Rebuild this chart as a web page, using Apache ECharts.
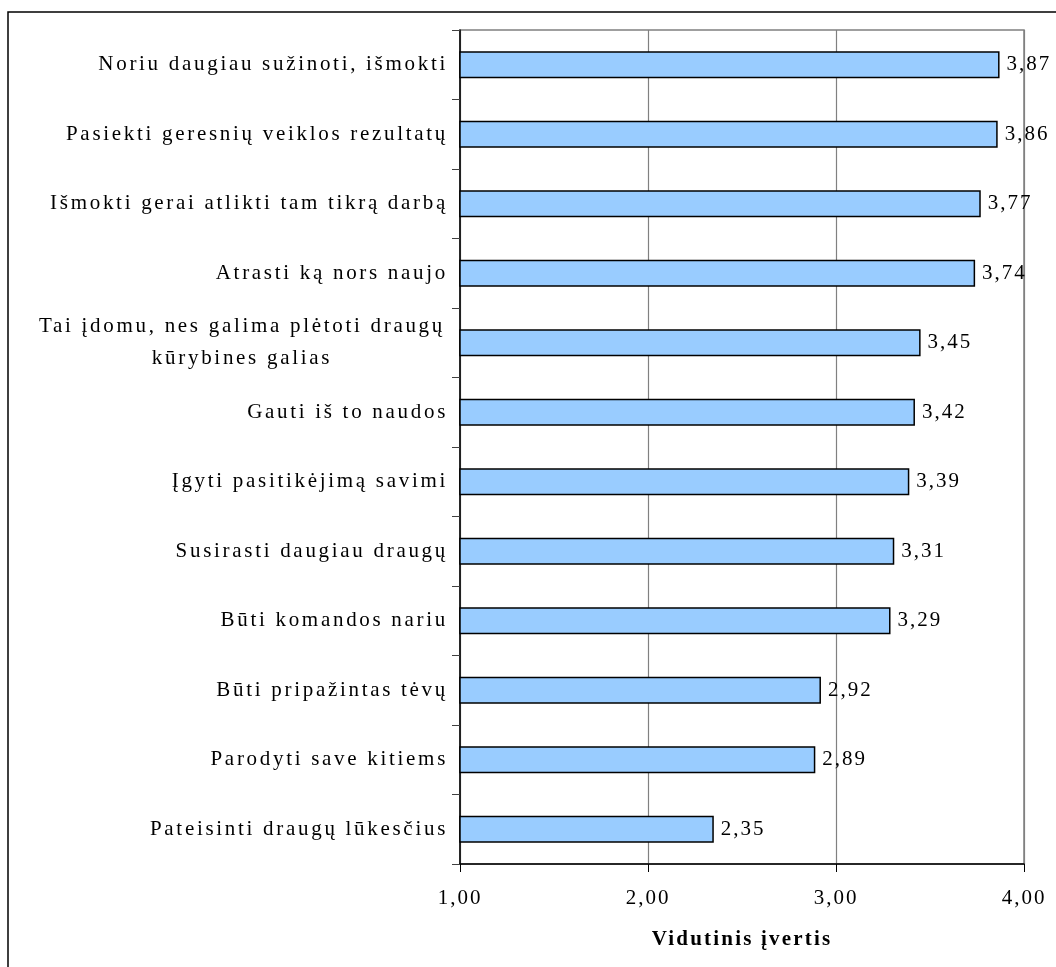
<!DOCTYPE html>
<html>
<head>
<meta charset="utf-8">
<script src="https://cdn.jsdelivr.net/npm/echarts@6/dist/echarts.min.js"></script>
<style>
  html, body { margin: 0; padding: 0; background: #fff; }
  #main { width: 1056px; height: 967px; }
</style>
</head>
<body>
<div id="main"></div>
<script>
const categories = [
  "Noriu daugiau sužinoti, išmokti",
  "Pasiekti geresnių veiklos rezultatų",
  "Išmokti gerai atlikti tam tikrą darbą",
  "Atrasti ką nors naujo",
  "Tai įdomu, nes galima plėtoti draugų\nkūrybines galias",
  "Gauti iš to naudos",
  "Įgyti pasitikėjimą savimi",
  "Susirasti daugiau draugų",
  "Būti komandos nariu",
  "Būti pripažintas tėvų",
  "Parodyti save kitiems",
  "Pateisinti draugų lūkesčius"
];
const values = [3.87, 3.86, 3.77, 3.74, 3.45, 3.42, 3.39, 3.31, 3.29, 2.92, 2.89, 2.35];
const xTicks = [1, 2, 3, 4];
const xAxisTitle = "Vidutinis įvertis";

const fmt = v => v.toFixed(2).replace('.', ',');
const FONT = 'Liberation Serif';

// Reference text is drawn with slightly expanded letter spacing (Times-style, Excel export).
(function () {
  const proto = CanvasRenderingContext2D.prototype;
  const spacingFor = (ctx, t) => {
    const s = String(t);
    if (/^[\d,]+$/.test(s)) return '2px';
    if ((ctx.font || '').indexOf('bold') >= 0) return '2.2px';
    return '2.7px';
  };
  const origFill = proto.fillText;
  proto.fillText = function (t, x, y, w) {
    this.letterSpacing = spacingFor(this, t);
    return w === undefined ? origFill.call(this, t, x, y) : origFill.call(this, t, x, y, w);
  };
  const origMeasure = proto.measureText;
  proto.measureText = function (t) {
    this.letterSpacing = spacingFor(this, t);
    return origMeasure.call(this, t);
  };
})();

const chart = echarts.init(document.getElementById('main'), null, { renderer: 'canvas' });
chart.setOption({
  animation: false,
  backgroundColor: '#fff',
  textStyle: { fontFamily: FONT, color: '#000' },
  graphic: [{
    type: 'rect',
    shape: { x: 8, y: 12, width: 1100, height: 1000 },
    style: { fill: 'none', stroke: '#000', lineWidth: 1.5 },
    silent: true
  }],
  grid: {
    left: 460, right: 32, top: 30, bottom: 103,
    show: true, borderColor: '#808080', borderWidth: 1.5, backgroundColor: 'transparent'
  },
  xAxis: {
    type: 'value',
    min: xTicks[0], max: xTicks[xTicks.length - 1], interval: 1,
    name: xAxisTitle,
    nameLocation: 'middle',
    nameGap: 64,
    nameTextStyle: { fontFamily: FONT, fontWeight: 'bold', fontSize: 21, color: '#000' },
    axisLine: { show: true, lineStyle: { color: '#000', width: 1.5 } },
    axisTick: { show: true, length: 8, inside: false, lineStyle: { color: '#000' } },
    axisLabel: { fontFamily: FONT, fontSize: 21, color: '#000', margin: 23, formatter: fmt },
    splitLine: { show: true, lineStyle: { color: '#808080', width: 1.2 } }
  },
  yAxis: {
    type: 'category',
    inverse: true,
    data: categories,
    axisLine: { show: true, lineStyle: { color: '#000', width: 1.5 } },
    axisTick: { show: true, length: 8, alignWithLabel: false, lineStyle: { color: '#404040' } },
    axisLabel: {
      fontFamily: FONT, fontSize: 21, color: '#000', margin: 12,
      formatter: function (v) {
        if (v.indexOf('\n') >= 0) {
          return v.split('\n').map(s => '{c|' + s + '}').join('\n');
        }
        return v;
      },
      rich: {
        c: { width: 412, align: 'center', fontFamily: FONT, fontSize: 21, lineHeight: 32, color: '#000' }
      }
    },
    splitLine: { show: false }
  },
  series: [{
    type: 'bar',
    data: values,
    barWidth: '39%',
    itemStyle: { color: '#99CCFF', borderColor: '#000', borderWidth: 1.5 },
    label: {
      show: true, position: 'right', distance: 7,
      fontFamily: FONT, fontSize: 21, color: '#000',
      formatter: p => fmt(p.value)
    }
  }]
});
</script>
</body>
</html>
